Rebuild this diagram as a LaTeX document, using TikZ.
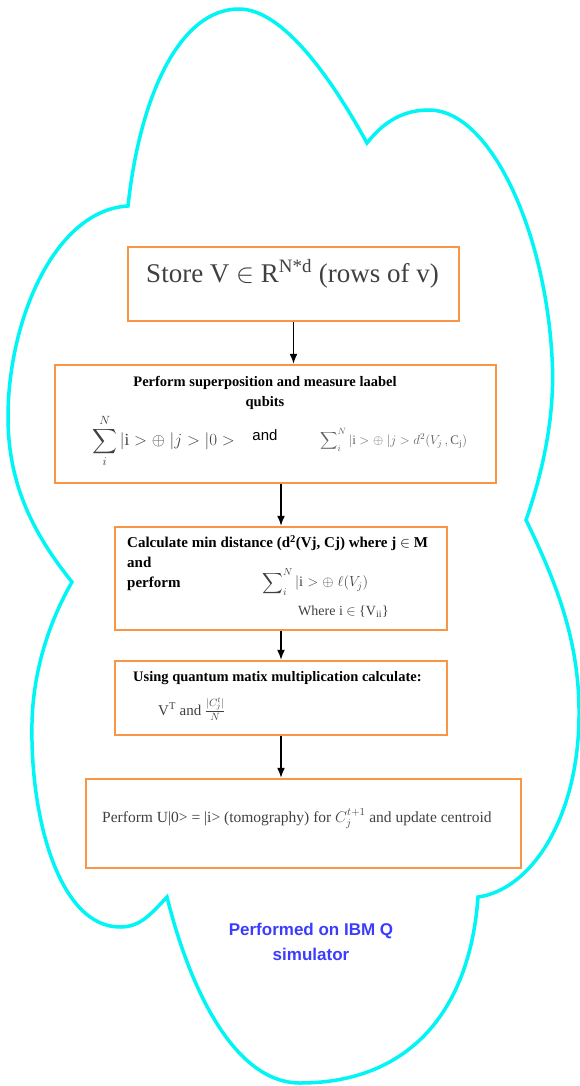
\RequirePackage{fix-cm}
\documentclass[tikz,border=0pt]{standalone}
\usepackage{exscale}
\usepackage{fontspec}
\setmainfont{Liberation Serif}
\newfontfamily\arialfont{Liberation Sans}
\usetikzlibrary{arrows.meta}
\definecolor{boxorange}{RGB}{247,150,70}
\definecolor{cloudcyan}{RGB}{0,245,245}
\definecolor{textgray}{RGB}{64,64,64}
\definecolor{lightgray}{RGB}{96,96,96}
\definecolor{ibmblue}{RGB}{60,60,255}

\begin{document}
\begin{tikzpicture}[x=1pt, y=-1pt,
    stepbox/.style={draw=boxorange, line width=2.5pt, rectangle, inner sep=0pt},
    flow/.style={-{Latex[length=10pt,width=8pt]}, line width=1.4pt},
    boldtxt/.style={inner sep=0pt, font=\bfseries\fontsize{14.5}{20}\selectfont}]
    \useasboundingbox (0,0) rectangle (580,1086);

    % cloud
    \draw[cloudcyan, line width=3.5pt] (128,206)
        .. controls (140,95) and (180,9) .. (239,9)
        .. controls (285,9) and (335,85) .. (367,143)
        .. controls (385,120) and (405,110) .. (429,110)
        .. controls (490,110) and (545,230) .. (552,357)
        .. controls (556,420) and (540,480) .. (526,520)
        .. controls (555,580) and (580,640) .. (579,717)
        .. controls (578,820) and (530,890) .. (478,897)
        .. controls (470,1010) and (410,1083) .. (300,1083)
        .. controls (235,1083) and (190,990) .. (167,897)
        .. controls (150,915) and (140,927) .. (120,927)
        .. controls (60,927) and (30,820) .. (32,723)
        .. controls (33,670) and (50,620) .. (72,582)
        .. controls (30,530) and (8,480) .. (8,417)
        .. controls (8,320) and (55,210) .. cycle;

    % store
    \node[stepbox, minimum width=331pt, minimum height=74pt] (store) at (293.5,284) {};
    \node[anchor=base, text=textgray, font=\fontsize{27}{30}\selectfont] (storetxt) at (292.5,282)
        {Store V $\in$ R\textsuperscript{N*d} (rows of v)};

    % superposition
    \node[stepbox, minimum width=441pt, minimum height=118pt] (super) at (275.5,424) {};
    \node[boldtxt, align=center, anchor=north] (supertitle) at (265,376)
        {Perform superposition and measure laabel\\qubits};
    \node[anchor=west, inner sep=0pt, text=textgray, font=\fontsize{17}{18}\selectfont] (sumone) at (92,441)
        {$\displaystyle\sum_{i}^{N}|\mathrm{i}>\oplus\;|j>|0>$};
    \node[anchor=base, inner sep=0pt, font=\arialfont\fontsize{15}{18}\selectfont] (andword) at (265,440) {and};
    \node[anchor=west, inner sep=0pt, text=lightgray, font=\fontsize{13}{16}\selectfont] (sumtwo) at (320,440)
        {$\displaystyle\sum\nolimits_{i}^{N}|\mathrm{i}>\oplus\;|j>d^2(V_j\,,\mathrm{C}_{\mathrm{j}})$};

    % min distance
    \node[stepbox, minimum width=332pt, minimum height=103pt] (mindist) at (281,578.5) {};
    \node[boldtxt, align=left, anchor=north west, font=\bfseries\fontsize{15}{20}\selectfont] (mindisttitle) at (127,535)
        {Calculate min distance (d\textsuperscript{2}(Vj, Cj) where j $\in$ M\\and\\perform};
    \node[anchor=west, inner sep=0pt, text=textgray, font=\fontsize{14.5}{18}\selectfont] (sumthree) at (262,582)
        {$\displaystyle\sum\nolimits_{i}^{N}|\mathrm{i}>\oplus\;\ell(V_j)$};
    \node[anchor=base west, inner sep=0pt, text=textgray, font=\fontsize{14}{16}\selectfont] (wherei) at (298,615)
        {Where i $\in$ \{V\textsubscript{ii}\}};

    % matrix multiplication
    \node[stepbox, minimum width=332pt, minimum height=74pt] (matmul) at (281,698) {};
    \node[boldtxt, anchor=base west] (matmultitle) at (133,681) {Using quantum matix multiplication calculate:};
    \node[anchor=base west, inner sep=0pt, text=textgray, font=\fontsize{15}{18}\selectfont] (matmulexpr) at (158,715)
        {V\textsuperscript{T} and $\frac{|C_j^t|}{N}$};

    % tomography
    \node[stepbox, minimum width=435pt, minimum height=89pt] (tomo) at (303.5,823.5) {};
    \node[anchor=base west, inner sep=0pt, text=textgray, font=\fontsize{15.5}{18}\selectfont] (tomotxt) at (102,822)
        {Perform U|0> = |i> (tomography) for $C_j^{t+1}$ and update centroid};

    \node[align=center, inner sep=0pt, anchor=north, text=ibmblue, font=\arialfont\bfseries\fontsize{17}{25}\selectfont] (ibm) at (311,923)
        {Performed on IBM Q\\simulator};

    % arrows
    \draw[flow] (store.south) -- (store.south |- super.north);
    \draw[flow] (mindist.north |- super.south) -- (mindist.north);
    \draw[flow] (mindist.south) -- (matmul.north);
    \draw[flow] (matmul.south) -- (matmul.south |- tomo.north);
\end{tikzpicture}
\end{document}
